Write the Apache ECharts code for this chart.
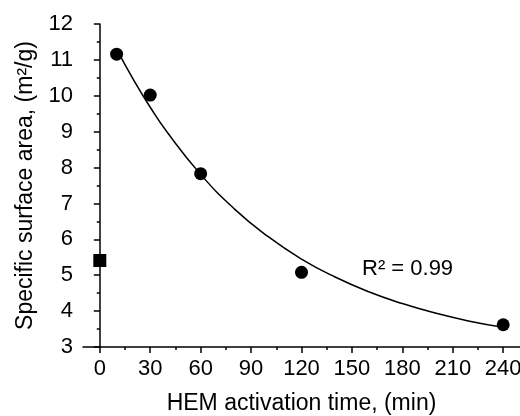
<!DOCTYPE html>
<html>
<head>
<meta charset="utf-8">
<script src="https://cdn.jsdelivr.net/npm/echarts@6/dist/echarts.min.js"></script>
<style>
html,body{margin:0;padding:0;background:#fff;}
#chart{width:520px;height:416px;}
</style>
</head>
<body>
<div id="chart"></div>
<script>
// 数据
const xTicks = [0, 30, 60, 90, 120, 150, 180, 210, 240];
const xMinor = [15, 45, 75, 105, 135, 165, 195, 225];
const untreated = [[0, 5.41]];
const activated = [[10, 11.16], [30, 10.02], [60, 7.83], [120, 5.08], [240, 3.62]];
// 拟合曲线（沿图中曲线读取）
const fitX = [10, 20, 30, 40, 60, 80, 100, 120, 140, 160, 180, 200, 220, 240];
const fitY = [11.30, 10.45, 9.68, 8.99, 7.81, 6.85, 6.08, 5.45, 4.95, 4.54, 4.21, 3.94, 3.72, 3.55];

const font = 'Liberation Sans, Arial, sans-serif';
const mycharts = echarts.init(document.getElementById('chart'));
const options = {
  animation: false,
  grid: { left: 83, right: 0, top: 24, bottom: 69, containLabel: false, outerBoundsMode: 'none' },
  xAxis: [
    {
      type: 'value', min: -10, max: 250,
      name: 'HEM activation time, (min)',
      nameLocation: 'middle', nameGap: 45,
      nameTextStyle: { color: '#000', fontSize: 23, fontFamily: font },
      splitLine: { show: false },
      axisLine: { lineStyle: { color: '#000', width: 1.5 } },
      axisTick: { inside: false, length: 6, customValues: xTicks, lineStyle: { color: '#000', width: 1.5 } },
      axisLabel: { customValues: xTicks, color: '#000', fontSize: 22, fontFamily: font, margin: 11 }
    },
    {
      // 次刻度
      type: 'value', min: -10, max: 250, position: 'bottom',
      splitLine: { show: false },
      axisLine: { show: false },
      axisTick: { inside: false, length: 3, customValues: xMinor, lineStyle: { color: '#000', width: 1.5 } },
      axisLabel: { show: false }
    }
  ],
  yAxis: {
    type: 'value', min: 3, max: 12, interval: 1,
    name: 'Specific surface area, (m²/g)',
    nameLocation: 'middle', nameGap: 46,
    nameTextStyle: { color: '#000', fontSize: 23, fontFamily: font },
    splitLine: { show: false },
    axisLine: { show: true, lineStyle: { color: '#000', width: 1.5 } },
    axisTick: { show: true, inside: false, length: 6, lineStyle: { color: '#000', width: 1.5 } },
    minorTick: { show: true, splitNumber: 2, length: 3, lineStyle: { color: '#000', width: 1.5 } },
    axisLabel: { color: '#000', fontSize: 22, fontFamily: font, margin: 10 }
  },
  graphic: [
    {
      type: 'text', left: 362, top: 258,
      style: { text: 'R² = 0.99', fill: '#000', fontSize: 22, fontFamily: font }
    }
  ],
  series: [
    {
      type: 'line', data: fitX.map((x, i) => [x, fitY[i]]),
      smooth: true, showSymbol: false, symbol: 'none',
      lineStyle: { color: '#000', width: 1.5 }, z: 1
    },
    {
      type: 'scatter', data: untreated, symbol: 'rect', symbolSize: 13,
      itemStyle: { color: '#000', opacity: 1 }, z: 3
    },
    {
      type: 'scatter', data: activated, symbol: 'circle', symbolSize: 13,
      itemStyle: { color: '#000', opacity: 1 }, z: 3
    }
  ]
};
mycharts.setOption(options, true);
window.addEventListener('resize', () => mycharts.resize());
</script>
</body>
</html>
